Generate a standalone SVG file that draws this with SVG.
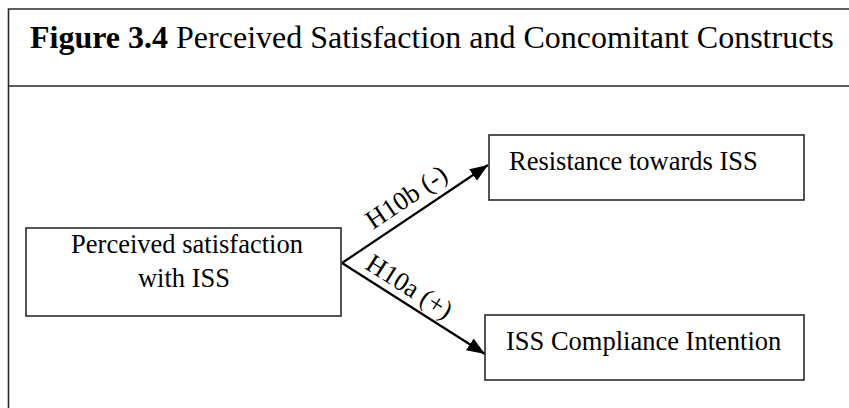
<svg xmlns="http://www.w3.org/2000/svg" width="849" height="408" viewBox="0 0 849 408">
  <style>
    .frame { fill: none; stroke: #2a2a2a; stroke-width: 1.6; }
    .box { fill: #ffffff; stroke: #2a2a2a; stroke-width: 1.6; }
    .label { font-family: "Liberation Serif", "Times New Roman", serif; font-size: 26.5px; fill: #000; }
    .edge { fill: none; stroke: #000; stroke-width: 2.2; }
    .elabel { font-family: "Liberation Serif", "Times New Roman", serif; font-size: 26.5px; fill: #000; }
  </style>
  <defs>
    <marker id="arrow" markerUnits="userSpaceOnUse" markerWidth="20" markerHeight="16" refX="18" refY="7" orient="auto">
      <path d="M0,0 L18,7 L0,14 Z" fill="#000"/>
    </marker>
  </defs>

  <!-- caption frame -->
  <g id="frame">
    <path class="frame" d="M8.5,409 L8.5,9 L850,9"/>
    <line class="frame" x1="8.5" y1="86" x2="850" y2="86"/>
    <text x="30" y="48" font-family="'Liberation Serif', 'Times New Roman', serif" font-size="32" fill="#000"><tspan font-weight="bold">Figure 3.4</tspan> Perceived Satisfaction and Concomitant Constructs</text>
  </g>

  <!-- connectors -->
  <g id="connectors">
    <line class="edge" x1="342" y1="263" x2="488" y2="165" marker-end="url(#arrow)"/>
    <line class="edge" x1="342" y1="263" x2="485" y2="354" marker-end="url(#arrow)"/>
    <text class="elabel" transform="translate(373,230) rotate(-33.9)">H10b (-)</text>
    <text class="elabel" transform="translate(364,268) rotate(32.5)">H10a (+)</text>
  </g>

  <g id="satisfaction">
    <rect class="box" x="26" y="228" width="315" height="88"/>
    <text class="label" x="187" y="253" text-anchor="middle" font-size="26">Perceived satisfaction</text>
    <text class="label" x="184" y="287" text-anchor="middle" font-size="26">with ISS</text>
  </g>

  <g id="resistance">
    <rect class="box" x="489" y="135" width="315" height="65"/>
    <text class="label" x="509" y="170">Resistance towards ISS</text>
  </g>

  <g id="compliance">
    <rect class="box" x="485" y="315" width="319" height="65"/>
    <text class="label" x="506" y="350">ISS Compliance Intention</text>
  </g>
</svg>
